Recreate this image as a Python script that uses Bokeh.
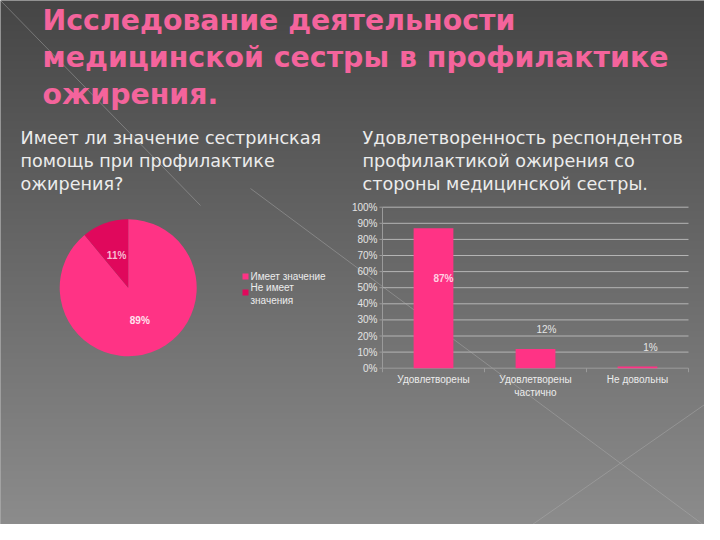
import math
import numpy as np
from bokeh.plotting import figure
from bokeh.models import Range1d
from bokeh.core.properties import value
from bokeh.embed import file_html
from bokeh.resources import INLINE

# ---------------- data ----------------
title_lines = ["Исследование деятельности",
               "медицинской сестры в профилактике",
               "ожирения."]
pie_title = ["Имеет ли значение сестринская",
             "помощь при профилактике",
             "ожирения?"]
bar_title = ["Удовлетворенность респондентов",
             "профилактикой ожирения со",
             "стороны медицинской сестры."]

pie_labels = ["Имеет значение", "Не имеет\nзначения"]
pie_values = [89, 11]

bar_categories = ["Удовлетворены", "Удовлетворены\nчастично", "Не довольны"]
bar_values = [87, 12, 1]
bar_ticks = [0, 10, 20, 30, 40, 50, 60, 70, 80, 90, 100]
bar_tick_labels = ["0%", "10%", "20%", "30%", "40%", "50%",
                   "60%", "70%", "80%", "90%", "100%"]

# ---------------- styles ----------------
PINK = "#ff3385"
DARK = "#e0085c"
TITLE_C = "#f4649c"
TXT = "#ececec"
W, H = 704, 524


def Y(y):  # image (top-down) to data (bottom-up)
    return 540 - y


p = figure(width=W, height=H, x_range=Range1d(0, W), y_range=Range1d(540 - H, 540),
           output_backend="svg", toolbar_location=None, min_border=0,
           outline_line_color=None, background_fill_color="#5a5a5a",
           border_fill_color="#5a5a5a")
p.axis.visible = False
p.grid.visible = False

# background vertical gradient (decoration)
N = 262
top_c, bot_c = np.array([70, 70, 70]), np.array([140, 140, 140])
img = np.zeros((N, 2), dtype=np.uint32)
view = img.view(dtype=np.uint8).reshape((N, 2, 4))
for r in range(N):
    t = r / (N - 1)
    c = bot_c + (top_c - bot_c) * t
    view[r, :, 0] = int(c[0])
    view[r, :, 1] = int(c[1])
    view[r, :, 2] = int(c[2])
    view[r, :, 3] = 255
p.image_rgba(image=[img], x=0, y=540 - H, dw=W, dh=H)

# decorative diagonal lines
p.segment(x0=[0, 250, 509], y0=[Y(0), Y(188), Y(540)],
          x1=[200, 720, 720], y1=[Y(205), Y(537), Y(393)],
          line_color="#b0b0b0", line_alpha=0.45, line_width=1)

# titles
p.text(x=[42] * 3, y=[Y(20), Y(57), Y(94)], text=title_lines,
       text_font=value("DejaVu Sans"), text_font_style="bold",
       text_font_size="28.4px", text_color=TITLE_C, text_baseline="middle")
p.text(x=[20] * 3, y=[Y(137), Y(160), Y(183)], text=pie_title,
       text_font=value("DejaVu Sans"), text_font_size="17.6px",
       text_color=TXT, text_baseline="middle")
p.text(x=[362] * 3, y=[Y(137), Y(160), Y(183)], text=bar_title,
       text_font=value("DejaVu Sans"), text_font_size="17.6px",
       text_color=TXT, text_baseline="middle")

# ---------------- pie ----------------
cx, cy, R = 127.7, Y(287.3), 68.5
total = float(sum(pie_values))
starts, ends, mids = [], [], []
cum = 0.0
for v in pie_values:
    s = math.pi / 2 - 2 * math.pi * cum / total
    cum += v
    e = math.pi / 2 - 2 * math.pi * cum / total
    starts.append(s)
    ends.append(e)
    mids.append((s + e) / 2)
p.wedge(x=cx, y=cy, radius=R, start_angle=starts, end_angle=ends,
        direction="clock", fill_color=[PINK, DARK], line_color=None)
p.text(x=[cx + 0.5 * R * math.cos(m) for m in mids],
       y=[cy + 0.5 * R * math.sin(m) for m in mids],
       text=[f"{v}%" for v in pie_values],
       text_font=value("Liberation Sans"), text_font_style="bold",
       text_font_size="10px", text_color=["#ffe4ee", "#f7bcd2"],
       text_align="center", text_baseline="middle")
# legend
leg_y = [Y(276), Y(292)]
p.rect(x=[245, 245], y=leg_y, width=6, height=6, fill_color=[PINK, DARK],
       line_color=None)
p.text(x=[250, 250], y=[Y(276), Y(293.5)], text=pie_labels,
       text_font=value("Liberation Sans"), text_font_size="10px",
       text_color=TXT, text_baseline="middle", text_line_height=1.1)

# ---------------- bar chart (own scales) ----------------
bx0, bx1, by0, by1 = 382.0, 688.0, 367.7, 206.7
ncat = len(bar_categories)
sx = (bx1 - bx0) / ncat
sy = (by0 - by1) / 100.0
p.extra_x_ranges = {"bx": Range1d((0 - bx0) / sx, ncat + (W - bx1) / sx)}
p.extra_y_ranges = {"by": Range1d((by0 - H) / sy, by0 / sy)}
cx_bar = [i + 0.5 for i in range(ncat)]

# grid lines
grid_ticks = [t for t in bar_ticks if t > 0]
p.segment(x0=[0] * len(grid_ticks), x1=[ncat] * len(grid_ticks),
          y0=grid_ticks, y1=grid_ticks, line_color="#b4b4b4", line_width=1,
          x_range_name="bx", y_range_name="by")
# axes
p.segment(x0=[0, 0], x1=[0, ncat], y0=[0, 0], y1=[100, 0],
          line_color="#9a9a9a", line_width=1, x_range_name="bx", y_range_name="by")
p.segment(x0=list(range(ncat + 1)), x1=list(range(ncat + 1)),
          y0=[0] * (ncat + 1), y1=[-2.5] * (ncat + 1),
          line_color="#9a9a9a", line_width=1, x_range_name="bx", y_range_name="by")
p.segment(x0=[0] * len(bar_ticks), x1=[-0.03] * len(bar_ticks),
          y0=bar_ticks, y1=bar_ticks,
          line_color="#9a9a9a", line_width=1, x_range_name="bx", y_range_name="by")
# bars
p.vbar(x=cx_bar, top=bar_values, bottom=0, width=0.39, fill_color=PINK,
       line_color=None, x_range_name="bx", y_range_name="by")
# tick labels
p.text(x=[0] * len(bar_ticks), y=bar_ticks, text=bar_tick_labels, x_offset=-5,
       text_font=value("Liberation Sans"), text_font_size="10px",
       text_color="#e4e4e4", text_align="right", text_baseline="middle",
       x_range_name="bx", y_range_name="by")
# category labels
p.text(x=cx_bar, y=[0] * ncat, text=bar_categories, y_offset=6,
       text_font=value("Liberation Sans"), text_font_size="10px",
       text_color="#ececec", text_align="center", text_baseline="top",
       text_line_height=1.15, x_range_name="bx", y_range_name="by")
# value labels
p.text(x=cx_bar, y=bar_values, text=[f"{v}%" for v in bar_values],
       x_offset=[10, 11, 13], y_offset=[50, -19, -19],
       text_font=value("Liberation Sans"),
       text_font_style=["bold", "normal", "normal"], text_font_size="10px",
       text_color=["#ffd0e2", "#e6e6e6", "#e6e6e6"], text_align="center",
       text_baseline="middle", x_range_name="bx", y_range_name="by")

open("out.html", "w").write(file_html(p, INLINE))
